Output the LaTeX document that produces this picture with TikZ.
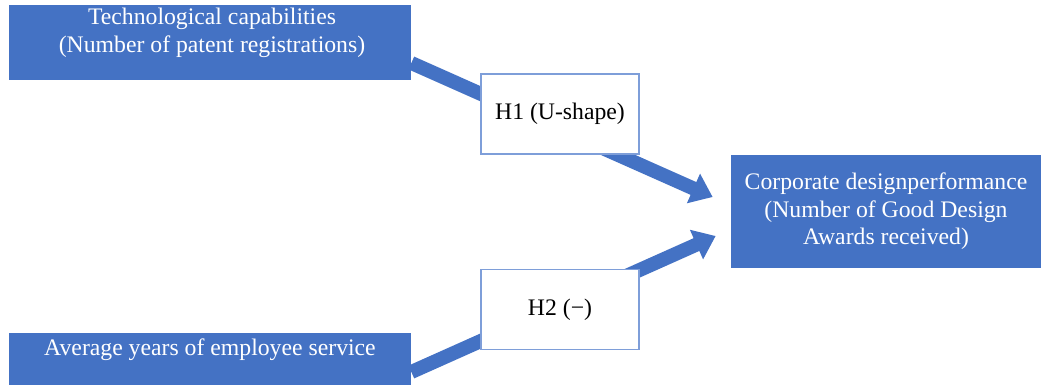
\documentclass[tikz,border=0pt]{standalone}
\usepackage{fontspec}
\setmainfont{Liberation Serif}
\usetikzlibrary{arrows.meta,positioning}
\definecolor{boxblue}{HTML}{4472C4}
\definecolor{edgeblue}{HTML}{7E9ED9}

\begin{document}
\begin{tikzpicture}[
    varbox/.style={rectangle, fill=boxblue, inner sep=0pt, text=white, align=center, font=\fontsize{13.5}{15.7}\selectfont},
    vartext/.style={text=white, align=center, inner sep=0pt, font=\fontsize{13.5}{15.7}\selectfont},
    hypbox/.style={rectangle, draw=edgeblue, line width=0.7pt, fill=white, minimum width=3.16cm, minimum height=1.6cm, font=\fontsize{13.5}{15.7}\selectfont},
    flow/.style={draw=boxblue, line width=0.28cm, -{Triangle[width=0.62cm, length=0.42cm]}}
]
\useasboundingbox (0,0) rectangle (20.82,7.7);
% variables
\node[varbox, minimum width=8.04cm, minimum height=1.5cm] (tech) at (4.2,6.85) {};
\node[vartext, anchor=north] (techlbl) at (4.24,7.54) {Technological capabilities\\(Number of patent registrations)};
\node[varbox, minimum width=8.04cm, minimum height=1.04cm] (svc) at (4.2,0.52) {};
\node[vartext, anchor=base] (svclbl) at (4.2,0.6) {Average years of employee service};
\node[varbox, minimum width=6.2cm, minimum height=2.26cm] (perf) at (17.72,3.47) {Corporate designperformance\\(Number of Good Design\\Awards received)};
% paths
\draw[flow] ([yshift=-0.41cm]tech.east) -- ([xshift=-0.36cm,yshift=0.29cm]perf.west);
\draw[flow] ([yshift=-0.26cm]svc.east) -- ([xshift=-0.3cm,yshift=-0.49cm]perf.west);
% hypotheses
\node[hypbox] (h1) at (11.2,5.42) {H1 (U-shape)};
\node[hypbox] (h2) at (11.2,1.51) {H2 (−)};
\end{tikzpicture}
\end{document}
